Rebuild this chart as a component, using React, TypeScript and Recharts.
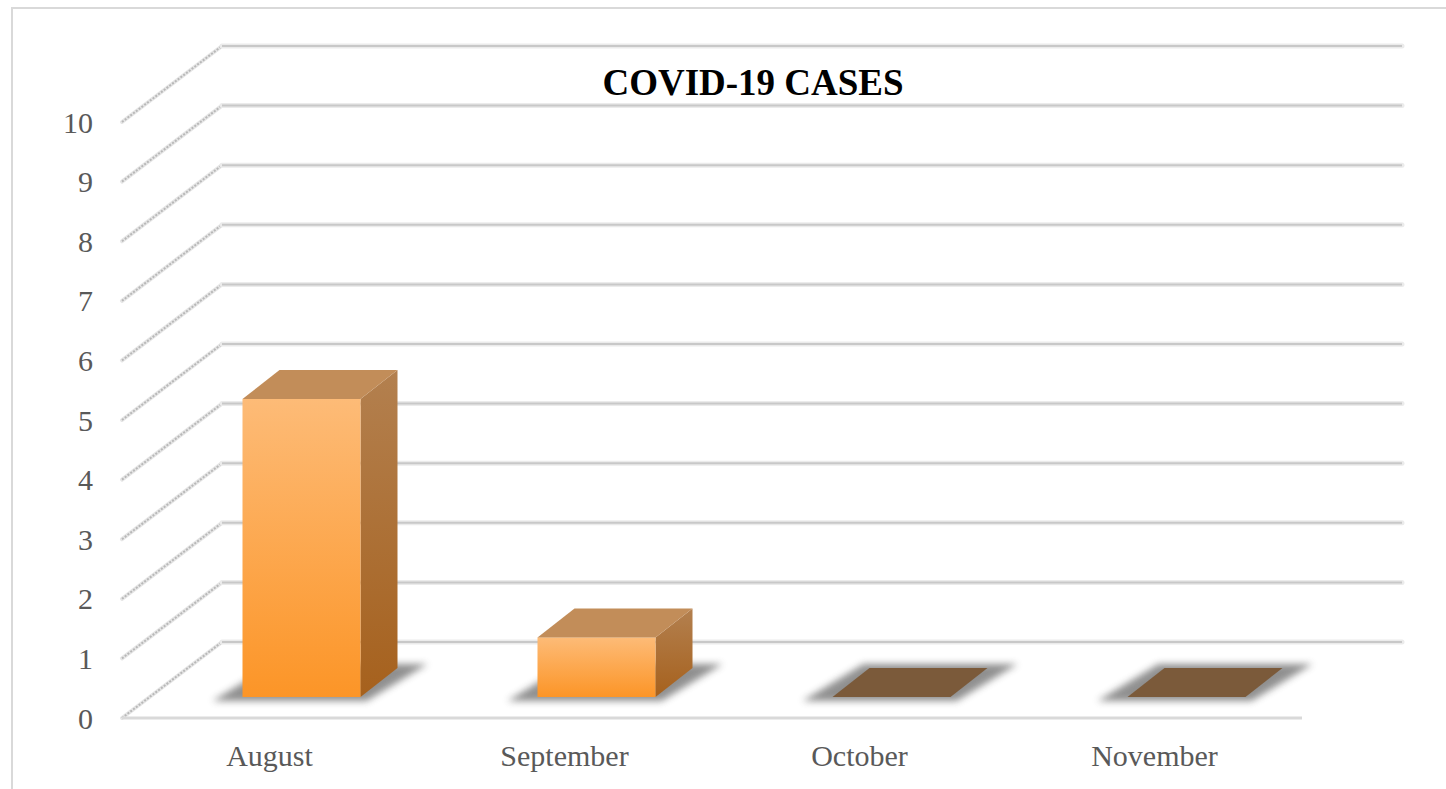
import { BarChart, Bar, XAxis, YAxis, CartesianGrid } from 'recharts';

const months = ['August', 'September', 'October', 'November'];
const cases = [5, 1, 0, 0];
const yTicks = [0, 1, 2, 3, 4, 5, 6, 7, 8, 9, 10];

const data = months.map((month, i) => ({ month, cases: cases[i] }));

// back wall sits up and to the right of the front plane
const WALL_DX = 100;
const WALL_DY = -76;
// boxes stand part way into the floor
const BOX_SHIFT_X = 32;
const BOX_SHIFT_Y = -21;
const BOX_DX = 37;
const BOX_DY = -29;

const FONT = '"Liberation Serif", "Times New Roman", serif';

function WallLine(props: any) {
  const { x1, y1, x2 } = props;
  const bx1 = x1 + WALL_DX;
  const bx2 = x2 + WALL_DX;
  const by = y1 + WALL_DY;
  return (
    <g key={`wall-${y1}`}>
      <line x1={x1} y1={y1} x2={bx1} y2={by} stroke="#e6e6e6" strokeWidth={4} strokeLinecap="round" />
      <line x1={x1} y1={y1} x2={bx1} y2={by} stroke="#b8b8b8" strokeWidth={2} strokeDasharray="2 1.5" />
      <line x1={bx1} y1={by} x2={bx2} y2={by} stroke="#ebebeb" strokeWidth={5} strokeLinecap="round" />
      <line x1={bx1} y1={by} x2={bx2} y2={by} stroke="#c8c8c8" strokeWidth={2} />
    </g>
  );
}

function Box(props: any) {
  const { x, y, width, height, index, payload } = props;
  const fx = x + BOX_SHIFT_X;
  const fy = y + BOX_SHIFT_Y;
  const bottom = fy + height;
  const flat = payload.cases === 0;

  const shadow = [
    [fx - 30, bottom + 4],
    [fx + width + 6, bottom + 4],
    [fx + width + BOX_DX + 30, bottom + BOX_DY - 4],
    [fx + BOX_DX - 6, bottom + BOX_DY - 4],
  ];
  const top = [
    [fx, fy],
    [fx + BOX_DX, fy + BOX_DY],
    [fx + width + BOX_DX, fy + BOX_DY],
    [fx + width, fy],
  ];
  const side = [
    [fx + width, fy],
    [fx + width + BOX_DX, fy + BOX_DY],
    [fx + width + BOX_DX, bottom + BOX_DY],
    [fx + width, bottom],
  ];
  const pts = (p: number[][]) => p.map((q) => q.join(',')).join(' ');

  return (
    <g>
      <defs>
        <linearGradient id={`front-${index}`} x1="0" y1="0" x2="0" y2="1">
          <stop offset="0%" stopColor="#fdbb77" />
          <stop offset="100%" stopColor="#fc9527" />
        </linearGradient>
        <linearGradient id={`side-${index}`} x1="0" y1="0" x2="0" y2="1">
          <stop offset="0%" stopColor="#b3804f" />
          <stop offset="100%" stopColor="#a6611d" />
        </linearGradient>
        <filter id={`blur-${index}`} x="-30%" y="-60%" width="160%" height="220%">
          <feGaussianBlur stdDeviation="3.5" />
        </filter>
      </defs>
      <polygon points={pts(shadow)} fill="#8a8a8a" opacity={0.95} filter={`url(#blur-${index})`} />
      {!flat && (
        <>
          <polygon points={pts(side)} fill={`url(#side-${index})`} />
          <rect x={fx} y={fy} width={width} height={height} fill={`url(#front-${index})`} />
        </>
      )}
      <polygon points={pts(top)} fill={flat ? '#7b5a3a' : '#c28d59'} />
    </g>
  );
}

export default function App() {
  return (
    <div
      style={{
        position: 'fixed',
        left: 0,
        top: 0,
        width: 1446,
        height: 789,
        background: '#fff',
        fontFamily: FONT,
      }}
    >
      <div
        style={{
          position: 'absolute',
          left: 11,
          top: 7,
          width: 1460,
          height: 800,
          borderTop: '2px solid #d9d9d9',
          borderLeft: '2px solid #d9d9d9',
        }}
      />
      <BarChart
        width={1446}
        height={789}
        data={data}
        margin={{ top: 122, right: 144, bottom: 41, left: 72 }}
        barCategoryGap="30%"
        style={{ position: 'absolute', left: 0, top: 0, fontFamily: FONT }}
      >
        <CartesianGrid vertical={false} horizontal={(p: any) => <WallLine {...p} />} />
        <XAxis
          dataKey="month"
          interval={0}
          tickLine={false}
          axisLine={{ stroke: '#d9d9d9', strokeWidth: 3 }}
          tickMargin={21}
          tick={{ fill: '#595959', fontSize: 30, fontFamily: FONT }}
        />
        <YAxis
          width={50}
          domain={[0, 10]}
          ticks={yTicks}
          interval={0}
          tickLine={false}
          axisLine={false}
          tickMargin={23}
          tick={{ fill: '#595959', fontSize: 30, fontFamily: FONT }}
        />
        <Bar dataKey="cases" shape={<Box />} isAnimationActive={false} />
      </BarChart>
      <div
        style={{
          position: 'absolute',
          left: 453,
          top: 65,
          width: 600,
          textAlign: 'center',
          fontFamily: FONT,
          fontWeight: 'bold',
          fontSize: 37,
          lineHeight: '36px',
          color: '#000',
        }}
      >
        COVID-19 CASES
      </div>
    </div>
  );
}
